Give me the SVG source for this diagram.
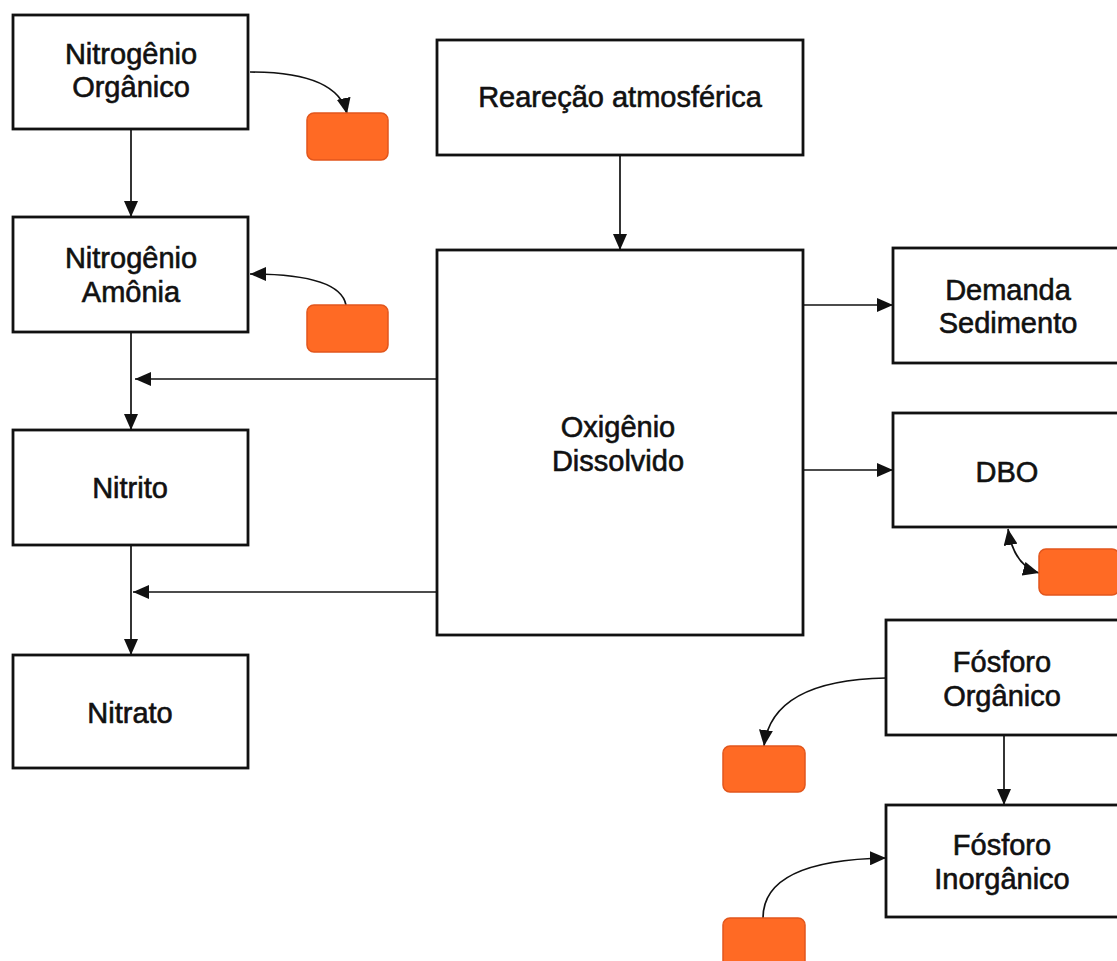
<svg xmlns="http://www.w3.org/2000/svg" width="1117" height="961" viewBox="0 0 1117 961">
<style>
.box{fill:#fff;stroke:#111;stroke-width:2.8}
.src{fill:#FF6A24;stroke:#E2561C;stroke-width:1.5}
.lbl{font-family:"Liberation Sans",Arial,sans-serif;font-size:29px;fill:#111;stroke:#111;stroke-width:0.6;text-anchor:middle}
.con{fill:none;stroke:#111;stroke-width:1.7}
</style>
<defs>
<marker id="ah" viewBox="0 0 16 14" refX="16" refY="7" markerWidth="16" markerHeight="14" markerUnits="userSpaceOnUse" orient="auto-start-reverse">
<path d="M0,0 L16,7 L0,14 Z" fill="#111"/>
</marker>
</defs>
<rect width="1117" height="961" fill="#fff"/>
<g id="connectors">
<path class="con" d="M131,129 V217" marker-end="url(#ah)"/>
<path class="con" d="M131,332 V430" marker-end="url(#ah)"/>
<path class="con" d="M131,545 V655" marker-end="url(#ah)"/>
<path class="con" d="M437,379 H135" marker-end="url(#ah)"/>
<path class="con" d="M437,592 H133" marker-end="url(#ah)"/>
<path class="con" d="M620,155 V250" marker-end="url(#ah)"/>
<path class="con" d="M803,305 H893" marker-end="url(#ah)"/>
<path class="con" d="M803,470 H893" marker-end="url(#ah)"/>
<path class="con" d="M1004,735 V805" marker-end="url(#ah)"/>
<path class="con" d="M250,72 Q338,72 347,114" marker-end="url(#ah)"/>
<path class="con" d="M346,305 Q340,274 250,274" marker-end="url(#ah)"/>
<path class="con" d="M886,678 Q772,680 764,746" marker-end="url(#ah)"/>
<path class="con" d="M763,918 Q763,860 886,858" marker-end="url(#ah)"/>
<path class="con" d="M1008,529 Q1014,566 1039,573" marker-start="url(#ah)" marker-end="url(#ah)"/>
</g>
<g id="nitrogenio-organico">
<rect class="box" x="13" y="15" width="235" height="114"/>
<text class="lbl" x="131" y="64">Nitrogênio</text>
<text class="lbl" x="131" y="97">Orgânico</text>
</g>
<g id="nitrogenio-amonia">
<rect class="box" x="13" y="217" width="235" height="115"/>
<text class="lbl" x="131" y="268">Nitrogênio</text>
<text class="lbl" x="131" y="302">Amônia</text>
</g>
<g id="nitrito">
<rect class="box" x="13" y="430" width="235" height="115"/>
<text class="lbl" x="130" y="498">Nitrito</text>
</g>
<g id="nitrato">
<rect class="box" x="13" y="655" width="235" height="113"/>
<text class="lbl" x="130" y="723">Nitrato</text>
</g>
<g id="reaeracao">
<rect class="box" x="437" y="40" width="366" height="115"/>
<text class="lbl" x="620" y="107">Reareção atmosférica</text>
</g>
<g id="oxigenio">
<rect class="box" x="437" y="250" width="366" height="385"/>
<text class="lbl" x="618" y="437">Oxigênio</text>
<text class="lbl" x="618" y="471">Dissolvido</text>
</g>
<g id="demanda-sedimento">
<rect class="box" x="893" y="248" width="232" height="115"/>
<text class="lbl" x="1008" y="300">Demanda</text>
<text class="lbl" x="1008" y="333">Sedimento</text>
</g>
<g id="dbo">
<rect class="box" x="893" y="413" width="232" height="114"/>
<text class="lbl" x="1007" y="482">DBO</text>
</g>
<g id="fosforo-organico">
<rect class="box" x="886" y="620" width="239" height="115"/>
<text class="lbl" x="1002" y="672">Fósforo</text>
<text class="lbl" x="1002" y="706">Orgânico</text>
</g>
<g id="fosforo-inorganico">
<rect class="box" x="886" y="805" width="239" height="112"/>
<text class="lbl" x="1002" y="855">Fósforo</text>
<text class="lbl" x="1002" y="889">Inorgânico</text>
</g>
<g id="fonte-1"><rect class="src" x="307" y="113" width="81" height="47" rx="7"/></g>
<g id="fonte-2"><rect class="src" x="307" y="305" width="81" height="47" rx="7"/></g>
<g id="fonte-3"><rect class="src" x="1039" y="549" width="80" height="46" rx="7"/></g>
<g id="fonte-4"><rect class="src" x="723" y="746" width="82" height="46" rx="7"/></g>
<g id="fonte-5"><rect class="src" x="723" y="918" width="82" height="52" rx="7"/></g>
</svg>
